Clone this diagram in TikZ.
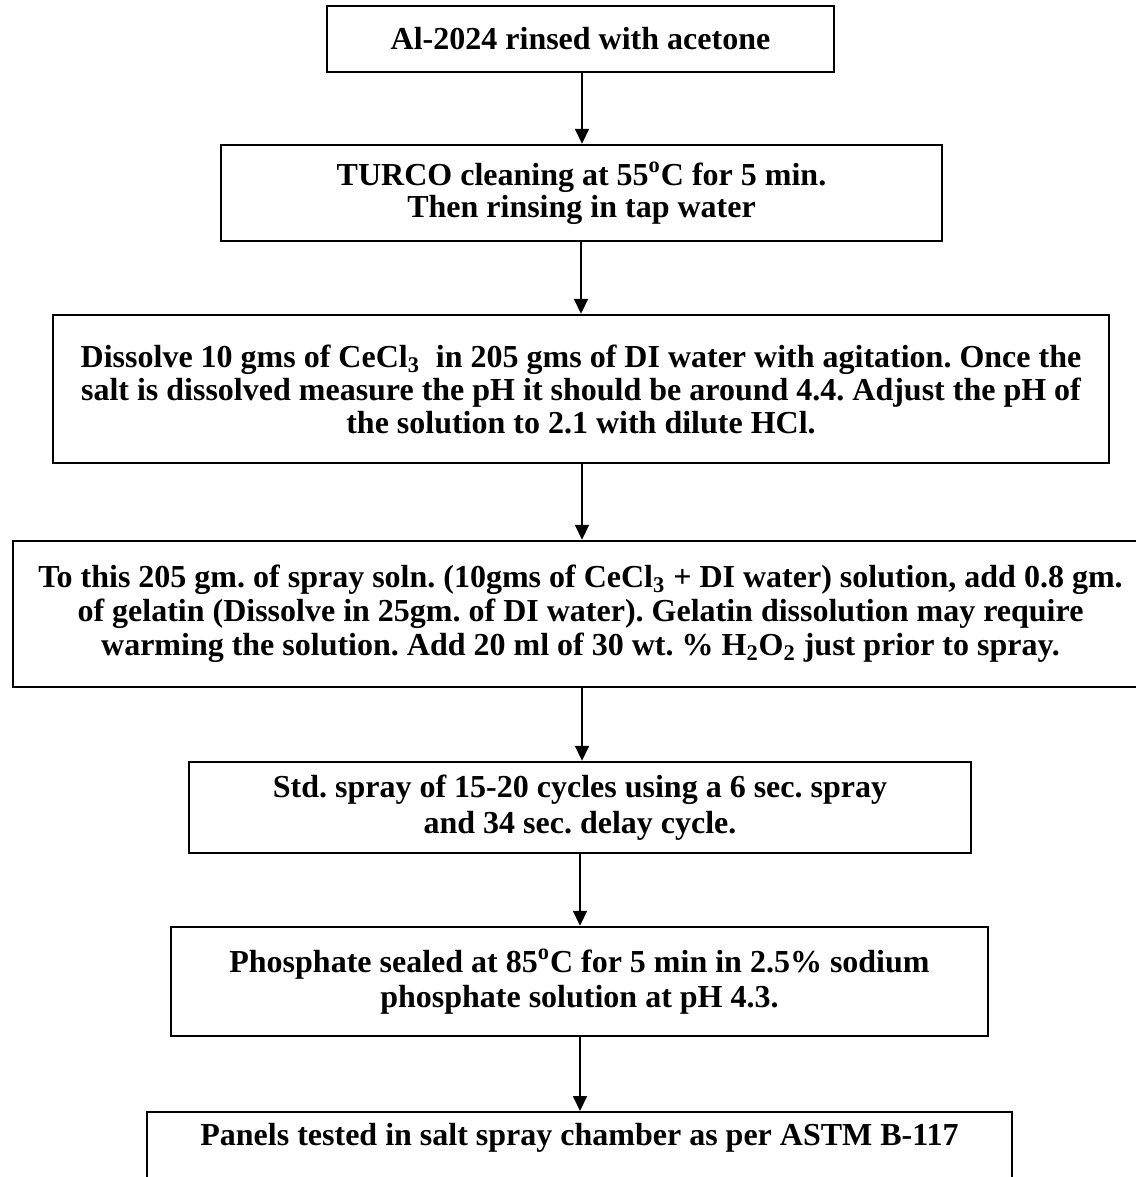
\documentclass[tikz,border=0pt]{standalone}
\usepackage{fontspec}
\setmainfont{Liberation Serif}
\usetikzlibrary{arrows.meta}
\frenchspacing
\begin{document}
\begin{tikzpicture}[x=0.5pt,y=-0.5pt,
  stepbox/.style={draw=black, line width=1.2pt, fill=white, align=center,
    font=\fontsize{16}{16.5}\selectfont\bfseries, inner sep=0pt},
  flow/.style={line width=0.9pt, -{Triangle[length=7.5pt,width=7pt]}}]
\useasboundingbox (0,0) rectangle (1135,1177);
\node[stepbox, minimum width=253.5pt, minimum height=33pt] (b1) at (580.5,39)
  {Al-2024 rinsed with acetone};
\node[stepbox, minimum width=360.5pt, minimum height=48pt,
  font=\fontsize{16}{16}\selectfont\bfseries] (b2) at (581.5,193)
  {TURCO cleaning at 55\textsuperscript{o}C for 5 min.\\ Then rinsing in tap water};
\node[stepbox, minimum width=528pt, minimum height=74pt,
  font=\fontsize{16}{16.5}\selectfont\bfseries] (b3) at (581,389)
  {Dissolve 10 gms of CeCl\textsubscript{3}\ \ in 205 gms of DI water with agitation. Once the\\
   salt is dissolved measure the pH it should be around 4.4. Adjust the pH of\\
   the solution to 2.1 with dilute HCl.};
\node[stepbox, minimum width=567.5pt, minimum height=73pt,
  font=\fontsize{16}{17}\selectfont\bfseries] (b4) at (580.5,614)
  {To this 205 gm. of spray soln. (10gms of CeCl\textsubscript{3} + DI water) solution, add 0.8 gm.\\
   of gelatin (Dissolve in 25gm. of DI water). Gelatin dissolution may require\\
   warming the solution. Add 20 ml of 30 wt. \% H\textsubscript{2}O\textsubscript{2} just prior to spray.};
\node[stepbox, minimum width=391pt, minimum height=45.5pt,
  font=\fontsize{16}{18}\selectfont\bfseries] (b5) at (580,807.5)
  {Std. spray of 15-20 cycles using a 6 sec. spray\\ and 34 sec. delay cycle.};
\node[stepbox, minimum width=408.5pt, minimum height=54.5pt,
  font=\fontsize{16}{17.5}\selectfont\bfseries] (b6) at (579.5,981.5)
  {Phosphate sealed at 85\textsuperscript{o}C for 5 min in 2.5\% sodium\\ phosphate solution at pH 4.3.};
\node[stepbox, anchor=north, minimum width=432.5pt, text height=16.5pt, text depth=32pt] (b7) at (579.5,1111)
  {Panels tested in salt spray chamber as per ASTM B-117};
\draw[flow] (b1.south -| 582,0) -- (b2.north -| 582,0);
\draw[flow] (b2.south -| 581,0) -- (b3.north -| 581,0);
\draw[flow] (b3.south -| 582,0) -- (b4.north -| 582,0);
\draw[flow] (b4.south -| 582,0) -- (b5.north -| 582,0);
\draw[flow] (b5.south -| 580,0) -- (b6.north -| 580,0);
\draw[flow] (b6.south -| 580,0) -- (b7.north -| 580,0);
\end{tikzpicture}
\end{document}
